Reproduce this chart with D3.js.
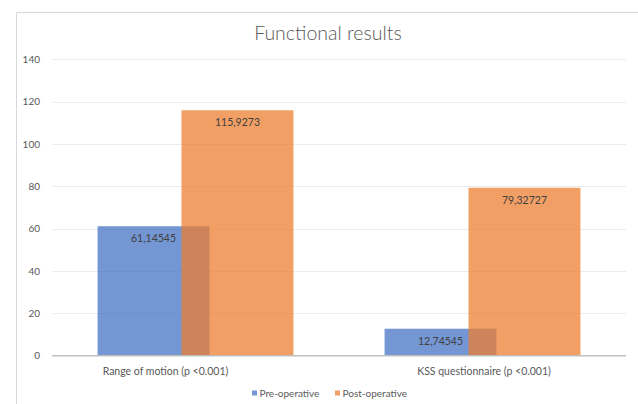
<!DOCTYPE html>
<html>
<head>
<meta charset="utf-8">
<script src="https://cdn.jsdelivr.net/npm/d3@7"></script>
<style>
  html, body { margin: 0; padding: 0; background: #fff; }
  svg { display: block; font-family: Lato, "Open Sans", sans-serif; }
</style>
</head>
<body>
<svg id="chart" width="638" height="404"></svg>
<script>
const title = "Functional results";
const categories = ["Range of motion (p <0.001)", "KSS questionnaire (p <0.001)"];
const seriesNames = ["Pre-operative", "Post-operative"];
const preValues = [61.14545, 12.74545];
const postValues = [115.9273, 79.32727];
const yTicks = [0, 20, 40, 60, 80, 100, 120, 140];
const colors = ["#4472C4", "#ED7D31"];

const svg = d3.select("#chart");
const W = 638, H = 404;
const plot = { left: 52, right: 626, top: 59.3, bottom: 355.7 };

// chart frame
svg.append("path")
  .attr("d", `M16.5,${H} V12.5 H${W}`)
  .attr("fill", "none").attr("stroke", "#d9d9d9").attr("stroke-width", 1);

const y = d3.scaleLinear().domain([0, 140]).range([plot.bottom, plot.top]);
const x = d3.scaleBand().domain(categories).range([plot.left, plot.right]).padding(0);

// gridlines
svg.append("g").selectAll("line").data(yTicks.filter(d => d > 0)).join("line")
  .attr("x1", plot.left).attr("x2", plot.right)
  .attr("y1", d => Math.round(y(d)) + 0.5).attr("y2", d => Math.round(y(d)) + 0.5)
  .attr("stroke", "#ececec").attr("stroke-width", 1);

// y axis labels
const yAxis = d3.axisLeft(y).tickValues(yTicks).tickSize(0).tickPadding(0);
const yg = svg.append("g").attr("transform", `translate(40,0)`).call(yAxis);
yg.select(".domain").remove();
yg.selectAll("text").attr("fill", "#595959").style("font-size", "10px").style("font-family", "Lato, sans-serif");

// bars
const barW = x.step() * 0.39;
const overlap = 0.25;
const groupW = barW * (2 - overlap);
const series = [preValues, postValues];
const fmt = d3.formatLocale({ decimal: ",", thousands: "", grouping: [3], currency: ["", ""] }).format(".7~r");

series.forEach((vals, si) => {
  const g = svg.append("g");
  const xs = (c) => x(c) + x.step() / 2 - groupW / 2 + si * barW * (1 - overlap);
  g.selectAll("rect").data(categories).join("rect")
    .attr("x", c => xs(c))
    .attr("y", (c, i) => y(vals[i]))
    .attr("width", barW)
    .attr("height", (c, i) => y(0) - y(vals[i]))
    .attr("fill", colors[si])
    .attr("fill-opacity", 0.74);
});

// value labels (drawn after bars)
series.forEach((vals, si) => {
  const xs = (c) => x(c) + x.step() / 2 - groupW / 2 + si * barW * (1 - overlap);
  svg.append("g").selectAll("text").data(categories).join("text")
    .attr("x", c => xs(c) + barW / 2)
    .attr("y", (c, i) => y(vals[i]) + 16)
    .attr("text-anchor", "middle")
    .attr("fill", "#404040")
    .style("font-size", "10.5px")
    .text((c, i) => fmt(vals[i]));
});

// baseline
svg.append("line")
  .attr("x1", plot.left).attr("x2", plot.right)
  .attr("y1", plot.bottom).attr("y2", plot.bottom)
  .attr("stroke", "#bfbfbf").attr("stroke-width", 1.5);

// category labels
const catShift = [-30, 1.5];
svg.append("g").selectAll("text").data(categories).join("text")
  .attr("x", (c, i) => x(c) + x.step() / 2 + catShift[i])
  .attr("y", 374.5)
  .attr("text-anchor", "middle")
  .attr("fill", "#595959")
  .style("font-size", "10.5px")
  .text(c => c);

// title
svg.append("text")
  .attr("x", 328).attr("y", 40)
  .attr("text-anchor", "middle")
  .attr("fill", "#595959")
  .style("font-size", "19.5px")
  .style("font-weight", "300")
  .text(title);

// legend
const legendX = [252, 335];
const lg = svg.append("g");
seriesNames.forEach((n, i) => {
  lg.append("rect").attr("x", legendX[i]).attr("y", 390.5).attr("width", 5).attr("height", 5)
    .attr("fill", colors[i]).attr("fill-opacity", 0.74);
  lg.append("text").attr("x", legendX[i] + 7.5).attr("y", 396.5)
    .attr("fill", "#595959").style("font-size", "10px").text(n);
});
</script>
</body>
</html>
